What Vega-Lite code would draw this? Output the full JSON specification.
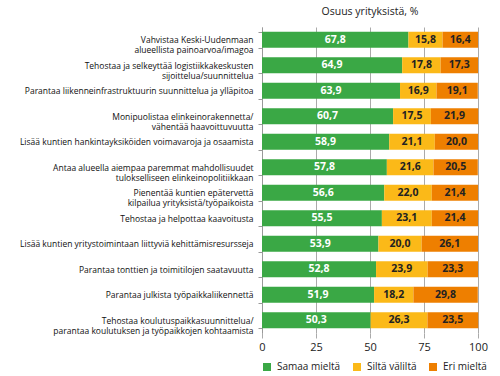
{
  "$schema": "https://vega.github.io/schema/vega-lite/v6.json",
  "width": 216,
  "height": 306,
  "autosize": {"type": "none"},
  "padding": {"left": 262, "top": 27, "right": 22, "bottom": 43},
  "background": "white",
  "title": {"text": "Osuus yrityksistä, %", "anchor": "middle", "fontSize": 10.5, "fontWeight": "normal", "font": "Open Sans", "color": "#222", "offset": 6},
  "config": {
    "view": {"stroke": null},
    "locale": {"number": {"decimal": ",", "thousands": " ", "grouping": [3], "currency": ["", " €"]}}
  },
  "data": {"values": [
    {"c": "Vahvistaa Keski-Uudenmaan|alueellista painoarvoa/imagoa", "s": "Samaa mieltä", "o": 1, "v": 67.8},
    {"c": "Vahvistaa Keski-Uudenmaan|alueellista painoarvoa/imagoa", "s": "Siltä väliltä", "o": 2, "v": 15.8},
    {"c": "Vahvistaa Keski-Uudenmaan|alueellista painoarvoa/imagoa", "s": "Eri mieltä", "o": 3, "v": 16.4},
    {"c": "Tehostaa ja selkeyttää logistiikkakeskusten|sijoittelua/suunnittelua", "s": "Samaa mieltä", "o": 1, "v": 64.9},
    {"c": "Tehostaa ja selkeyttää logistiikkakeskusten|sijoittelua/suunnittelua", "s": "Siltä väliltä", "o": 2, "v": 17.8},
    {"c": "Tehostaa ja selkeyttää logistiikkakeskusten|sijoittelua/suunnittelua", "s": "Eri mieltä", "o": 3, "v": 17.3},
    {"c": "Parantaa liikenneinfrastruktuurin suunnittelua ja ylläpitoa", "s": "Samaa mieltä", "o": 1, "v": 63.9},
    {"c": "Parantaa liikenneinfrastruktuurin suunnittelua ja ylläpitoa", "s": "Siltä väliltä", "o": 2, "v": 16.9},
    {"c": "Parantaa liikenneinfrastruktuurin suunnittelua ja ylläpitoa", "s": "Eri mieltä", "o": 3, "v": 19.1},
    {"c": "Monipuolistaa elinkeinorakennetta/|vähentää haavoittuvuutta", "s": "Samaa mieltä", "o": 1, "v": 60.7},
    {"c": "Monipuolistaa elinkeinorakennetta/|vähentää haavoittuvuutta", "s": "Siltä väliltä", "o": 2, "v": 17.5},
    {"c": "Monipuolistaa elinkeinorakennetta/|vähentää haavoittuvuutta", "s": "Eri mieltä", "o": 3, "v": 21.9},
    {"c": "Lisää kuntien hankintayksiköiden voimavaroja ja osaamista", "s": "Samaa mieltä", "o": 1, "v": 58.9},
    {"c": "Lisää kuntien hankintayksiköiden voimavaroja ja osaamista", "s": "Siltä väliltä", "o": 2, "v": 21.1},
    {"c": "Lisää kuntien hankintayksiköiden voimavaroja ja osaamista", "s": "Eri mieltä", "o": 3, "v": 20.0},
    {"c": "Antaa alueella aiempaa paremmat mahdollisuudet|tulokselliseen elinkeinopolitiikkaan", "s": "Samaa mieltä", "o": 1, "v": 57.8},
    {"c": "Antaa alueella aiempaa paremmat mahdollisuudet|tulokselliseen elinkeinopolitiikkaan", "s": "Siltä väliltä", "o": 2, "v": 21.6},
    {"c": "Antaa alueella aiempaa paremmat mahdollisuudet|tulokselliseen elinkeinopolitiikkaan", "s": "Eri mieltä", "o": 3, "v": 20.5},
    {"c": "Pienentää kuntien epätervettä|kilpailua yrityksistä/työpaikoista", "s": "Samaa mieltä", "o": 1, "v": 56.6},
    {"c": "Pienentää kuntien epätervettä|kilpailua yrityksistä/työpaikoista", "s": "Siltä väliltä", "o": 2, "v": 22.0},
    {"c": "Pienentää kuntien epätervettä|kilpailua yrityksistä/työpaikoista", "s": "Eri mieltä", "o": 3, "v": 21.4},
    {"c": "Tehostaa ja helpottaa kaavoitusta", "s": "Samaa mieltä", "o": 1, "v": 55.5},
    {"c": "Tehostaa ja helpottaa kaavoitusta", "s": "Siltä väliltä", "o": 2, "v": 23.1},
    {"c": "Tehostaa ja helpottaa kaavoitusta", "s": "Eri mieltä", "o": 3, "v": 21.4},
    {"c": "Lisää kuntien yritystoimintaan liittyviä kehittämisresursseja", "s": "Samaa mieltä", "o": 1, "v": 53.9},
    {"c": "Lisää kuntien yritystoimintaan liittyviä kehittämisresursseja", "s": "Siltä väliltä", "o": 2, "v": 20.0},
    {"c": "Lisää kuntien yritystoimintaan liittyviä kehittämisresursseja", "s": "Eri mieltä", "o": 3, "v": 26.1},
    {"c": "Parantaa tonttien ja toimitilojen saatavuutta", "s": "Samaa mieltä", "o": 1, "v": 52.8},
    {"c": "Parantaa tonttien ja toimitilojen saatavuutta", "s": "Siltä väliltä", "o": 2, "v": 23.9},
    {"c": "Parantaa tonttien ja toimitilojen saatavuutta", "s": "Eri mieltä", "o": 3, "v": 23.3},
    {"c": "Parantaa julkista työpaikkaliikennettä", "s": "Samaa mieltä", "o": 1, "v": 51.9},
    {"c": "Parantaa julkista työpaikkaliikennettä", "s": "Siltä väliltä", "o": 2, "v": 18.2},
    {"c": "Parantaa julkista työpaikkaliikennettä", "s": "Eri mieltä", "o": 3, "v": 29.8},
    {"c": "Tehostaa koulutuspaikkasuunnittelua/|parantaa koulutuksen ja työpaikkojen kohtaamista", "s": "Samaa mieltä", "o": 1, "v": 50.3},
    {"c": "Tehostaa koulutuspaikkasuunnittelua/|parantaa koulutuksen ja työpaikkojen kohtaamista", "s": "Siltä väliltä", "o": 2, "v": 26.3},
    {"c": "Tehostaa koulutuspaikkasuunnittelua/|parantaa koulutuksen ja työpaikkojen kohtaamista", "s": "Eri mieltä", "o": 3, "v": 23.5}
  ]},
  "transform": [
    {"stack": "v", "groupby": ["c"], "sort": [{"field": "o", "order": "ascending"}], "as": ["v0", "v1"]},
    {"calculate": "(datum.v0 + datum.v1) / 2", "as": "mid"}
  ],
  "encoding": {
    "y": {
      "field": "c", "type": "nominal", "sort": null, "title": null,
      "scale": {"paddingInner": 0.37, "paddingOuter": 0.185},
      "axis": {
        "labelExpr": "split(datum.label, '|')",
        "labelFont": "Open Sans", "labelFontSize": 8.5, "labelColor": "#111", "labelLimit": 300,
        "labelLineHeight": 10,
        "domainColor": "#999", "tickColor": "#999", "tickSize": 4, "tickBand": "extent",
        "labelPadding": 5, "grid": false
      }
    }
  },
  "layer": [
    {
      "mark": {"type": "bar"},
      "encoding": {
        "x": {
          "field": "v0", "type": "quantitative", "title": null,
          "scale": {"domain": [0, 100], "nice": false},
          "axis": {
            "values": [0, 25, 50, 75, 100], "domain": false,
            "grid": true, "gridColor": "#aaa", "gridWidth": 1,
            "tickColor": "#aaa", "tickSize": 5,
            "labelFont": "Open Sans", "labelFontSize": 11, "labelColor": "#222", "labelPadding": 3,
            "labelFlush": false
          }
        },
        "x2": {"field": "v1"},
        "color": {
          "field": "s", "type": "nominal", "title": null,
          "scale": {"domain": ["Samaa mieltä", "Siltä väliltä", "Eri mieltä"], "range": ["#3aa845", "#fbb918", "#ee7f00"]},
          "legend": {
            "orient": "none", "direction": "horizontal", "legendX": 0, "legendY": 335,
            "symbolType": "square", "symbolSize": 64, "symbolStrokeWidth": 0,
            "labelFont": "Open Sans", "labelFontSize": 10, "labelColor": "#222",
            "columnPadding": 11, "labelOffset": 5
          }
        }
      }
    },
    {
      "mark": {"type": "text", "font": "Open Sans", "fontSize": 10.5, "fontWeight": "bold", "baseline": "middle", "align": "center"},
      "encoding": {
        "x": {"field": "mid", "type": "quantitative"},
        "text": {"field": "v", "type": "quantitative", "format": ".1f"},
        "color": {
          "condition": {"test": "datum.s === 'Samaa mieltä'", "value": "white"},
          "value": "#222"
        }
      }
    }
  ]
}
